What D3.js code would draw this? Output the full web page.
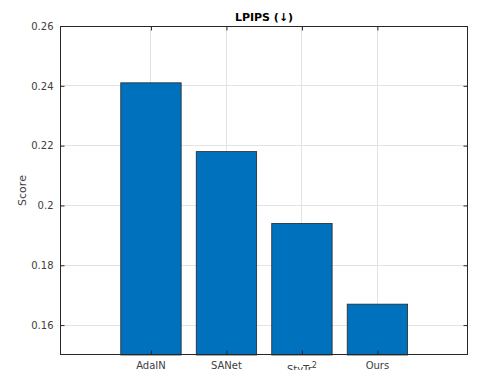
<!DOCTYPE html>
<html><head><meta charset="utf-8">
<script src="https://cdn.jsdelivr.net/npm/d3@7"></script>
<style>body{margin:0;background:#fff;overflow:hidden}svg{display:block}text{font-family:"DejaVu Sans",sans-serif}</style>
</head><body>
<script>
const categories = ["AdaIN", "SANet", "StyTr2", "Ours"];
const values = [0.241, 0.218, 0.194, 0.167];
const yTicks = [0.16, 0.18, 0.2, 0.22, 0.24, 0.26];
const title = "LPIPS (\u2193)";
const yLabel = "Score";

const W = 480, H = 378;
const L = 60, R = 468, T = 26, B = 355;
const svg = d3.select("body").append("svg").attr("width", W).attr("height", H);

const x = d3.scaleLinear().domain([-0.205, 5.2]).range([L, R]);
const y = d3.scaleLinear().domain([0.15, 0.26]).range([B, T]);
const idx = categories.map((d, i) => i + 1);

svg.append("defs").append("clipPath").attr("id", "lblclip")
  .append("rect").attr("x", 0).attr("y", B + 2).attr("width", W).attr("height", 370 - B - 2);

svg.append("rect").attr("x", L).attr("y", T).attr("width", R - L).attr("height", B - T).attr("fill", "#fff");

// grid
const g = svg.append("g");
g.selectAll(".gy").data(yTicks).join("line")
  .attr("x1", L).attr("x2", R).attr("y1", d => y(d)).attr("y2", d => y(d))
  .attr("stroke", "#e3e3e3").attr("stroke-width", 1).attr("shape-rendering", "crispEdges");
g.selectAll(".gx").data(idx).join("line")
  .attr("x1", d => x(d)).attr("x2", d => x(d)).attr("y1", T).attr("y2", B)
  .attr("stroke", "#e3e3e3").attr("stroke-width", 1).attr("shape-rendering", "crispEdges");

// bars
const bw = x(0.8) - x(0);
svg.selectAll(".bar").data(values).join("rect")
  .attr("x", (d, i) => x(i + 1) - bw / 2)
  .attr("width", bw)
  .attr("y", d => y(d))
  .attr("height", d => B - y(d))
  .attr("fill", "#0072BD").attr("stroke", "#262626").attr("stroke-width", 0.8);

// box
svg.append("rect").attr("x", L + 0.5).attr("y", T + 0.5).attr("width", R - L - 1).attr("height", B - T - 1)
  .attr("fill", "none").attr("stroke", "#262626").attr("stroke-width", 1).attr("shape-rendering", "crispEdges");

// axes (ticks inside)
const axL = d3.axisLeft(y).tickValues(yTicks).tickFormat(d => String(+d.toFixed(2))).tickSizeInner(-4).tickSizeOuter(0).tickPadding(7);
const gl = svg.append("g").attr("transform", `translate(${L + 0.5},0)`).call(axL);
const axR = d3.axisRight(y).tickValues(yTicks).tickFormat("").tickSizeInner(-4).tickSizeOuter(0);
const gr = svg.append("g").attr("transform", `translate(${R - 0.5},0)`).call(axR);
const axB = d3.axisBottom(x).tickValues(idx).tickFormat("").tickSizeInner(-4).tickSizeOuter(0);
const gb = svg.append("g").attr("transform", `translate(0,${B - 0.5})`).call(axB);
const axT = d3.axisTop(x).tickValues(idx).tickFormat("").tickSizeInner(-4).tickSizeOuter(0);
const gt = svg.append("g").attr("transform", `translate(0,${T + 0.5})`).call(axT);
[gl, gr, gb, gt].forEach(a => {
  a.select(".domain").remove();
  a.selectAll("line").attr("stroke", "#262626");
  a.selectAll("text").attr("fill", "#404040").attr("font-size", 10).attr("font-family", "DejaVu Sans");
});

// x labels (clipped at the bottom like the reference)
const xl = svg.append("g").attr("clip-path", "url(#lblclip)");
categories.forEach((c, i) => {
  const t = xl.append("text").attr("x", x(i + 1)).attr("text-anchor", "middle")
    .attr("fill", "#404040").attr("font-size", 10);
  if (c === "StyTr2") {
    t.attr("y", 373);
    t.append("tspan").text("StyTr");
    t.append("tspan").attr("font-size", 8).attr("dy", -5).text("2");
  } else t.attr("y", 369).text(c);
});

// title
svg.append("text").attr("x", (L + R) / 2).attr("y", 21).attr("text-anchor", "middle")
  .attr("font-size", 11).attr("font-weight", "bold").attr("fill", "#000").text(title);

// y label
svg.append("text").attr("transform", `translate(26,${(T + B) / 2}) rotate(-90)`)
  .attr("text-anchor", "middle").attr("font-size", 11).attr("fill", "#404040").text(yLabel);
</script>
</body></html>
